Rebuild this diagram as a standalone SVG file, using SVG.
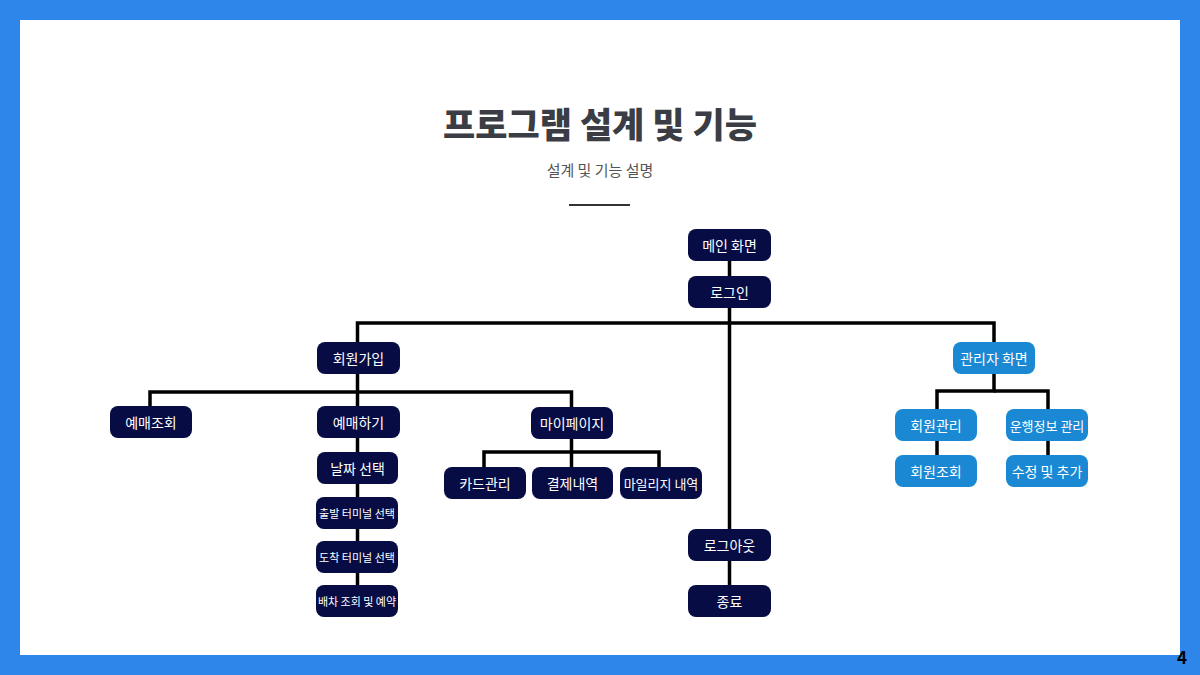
<svg xmlns="http://www.w3.org/2000/svg" width="1200" height="675" viewBox="0 0 1200 675">
<style>
text{font-family:"Noto Sans CJK KR","Noto Sans",sans-serif;}
.n rect{fill:#070c45;}
.b rect{fill:#1a88d2;}
.n text,.b text{fill:#ffffff;font-size:14px;text-anchor:middle;dominant-baseline:central;}
.sm text{font-size:11px;}
.md text{font-size:13px;}
#connectors path{fill:none;stroke:#000;stroke-width:3.5;}
</style>
<rect x="0" y="0" width="1200" height="675" fill="#2e86eb"/>
<rect x="20" y="20" width="1160" height="635" fill="#ffffff"/>
<text x="1182" y="664" font-family="Liberation Sans" font-weight="bold" font-size="17" fill="#000" text-anchor="middle">4</text>
<text x="600" y="138" font-size="35" font-weight="900" fill="#3a3d44" text-anchor="middle">프로그램 설계 및 기능</text>
<text x="600" y="176" font-size="15" fill="#555" text-anchor="middle">설계 및 기능 설명</text>
<rect x="569" y="204" width="61" height="2" fill="#333"/>
<g id="connectors">
<path d="M729.5 261V529"/>
<path d="M729.5 561V585"/>
<path d="M357.5 342V323H994V342"/>
<path d="M357.5 374V585"/>
<path d="M150 406V392H571.5V407"/>
<path d="M571.5 439V452H484V467"/>
<path d="M571.5 452V467"/>
<path d="M571.5 452H659V467"/>
<path d="M994 374V391H937V455"/>
<path d="M994 391H1048V455"/>
</g>
<g id="main" class="n"><rect x="688" y="229" width="83" height="32" rx="8"/><text x="729.5" y="245">메인 화면</text></g>
<g id="login" class="n"><rect x="688" y="276" width="83" height="32" rx="8"/><text x="729.5" y="292">로그인</text></g>
<g id="signup" class="n"><rect x="317" y="342" width="83" height="32" rx="8"/><text x="358.5" y="358">회원가입</text></g>
<g id="admin" class="b"><rect x="953" y="342" width="82" height="32" rx="8"/><text x="994" y="358">관리자 화면</text></g>
<g id="resv-check" class="n"><rect x="110" y="406" width="82" height="32" rx="8"/><text x="151" y="422">예매조회</text></g>
<g id="resv" class="n"><rect x="317" y="406" width="83" height="32" rx="8"/><text x="358.5" y="422">예매하기</text></g>
<g id="mypage" class="n"><rect x="531" y="407" width="82" height="32" rx="8"/><text x="572" y="423">마이페이지</text></g>
<g id="card" class="n"><rect x="444" y="467" width="82" height="32" rx="8"/><text x="485" y="483">카드관리</text></g>
<g id="pay" class="n"><rect x="532" y="467" width="81" height="32" rx="8"/><text x="572.5" y="483">결제내역</text></g>
<g id="mileage" class="n md"><rect x="620" y="467" width="82" height="32" rx="8"/><text x="661" y="483">마일리지 내역</text></g>
<g id="date" class="n"><rect x="317" y="452" width="81" height="32" rx="8"/><text x="357.5" y="468">날짜 선택</text></g>
<g id="depart" class="n sm"><rect x="316" y="497" width="82" height="32" rx="8"/><text x="357" y="513">출발 터미널 선택</text></g>
<g id="arrive" class="n sm"><rect x="316" y="541" width="82" height="32" rx="8"/><text x="357" y="557">도착 터미널 선택</text></g>
<g id="book" class="n sm"><rect x="316" y="585" width="82" height="32" rx="8"/><text x="357" y="601">배차 조회 및 예약</text></g>
<g id="logout" class="n"><rect x="688" y="529" width="83" height="32" rx="8"/><text x="729.5" y="545">로그아웃</text></g>
<g id="exit" class="n"><rect x="688" y="585" width="83" height="32" rx="8"/><text x="729.5" y="601">종료</text></g>
<g id="member-mgmt" class="b"><rect x="895" y="409" width="82" height="32" rx="8"/><text x="936" y="425">회원관리</text></g>
<g id="member-view" class="b"><rect x="895" y="455" width="82" height="32" rx="8"/><text x="936" y="471">회원조회</text></g>
<g id="route-mgmt" class="b md"><rect x="1006" y="409" width="82" height="32" rx="8"/><text x="1047" y="425">운행정보 관리</text></g>
<g id="edit" class="b"><rect x="1006" y="455" width="82" height="32" rx="8"/><text x="1047" y="471">수정 및 추가</text></g>
</svg>
